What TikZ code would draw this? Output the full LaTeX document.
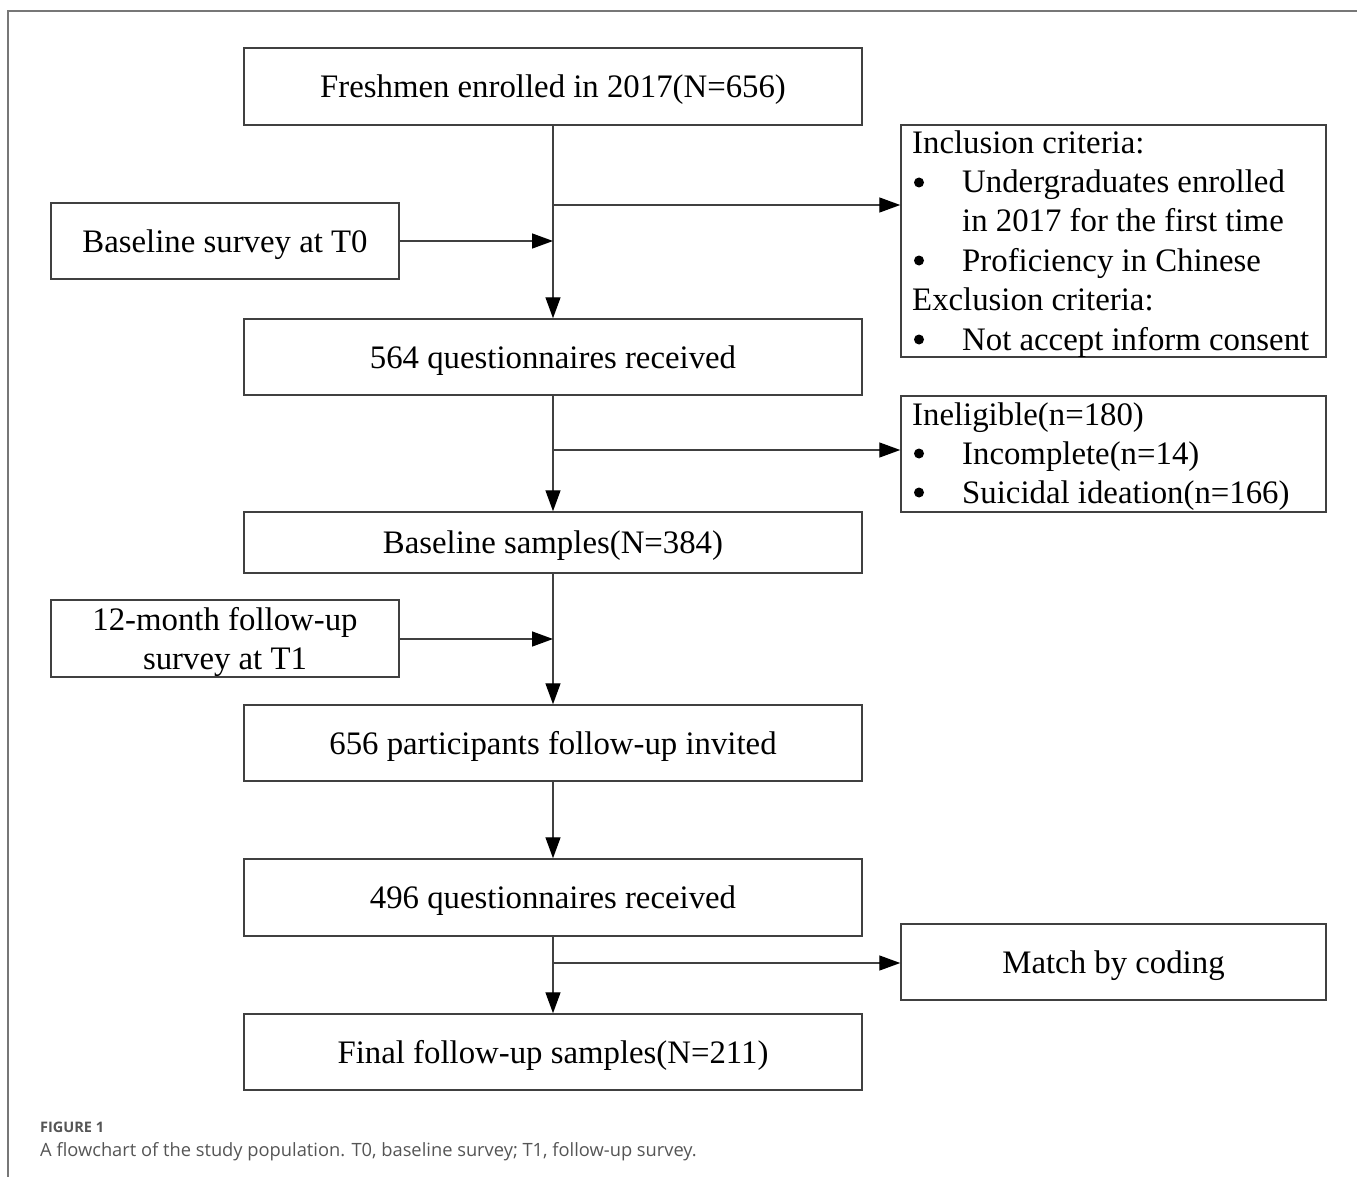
\documentclass[tikz,border=0pt]{standalone}
\usepackage{fontspec}
\setmainfont{Liberation Serif}
\newfontfamily\capfont{Open Sans}
\usetikzlibrary{arrows.meta}
\definecolor{linec}{HTML}{404040}
\definecolor{capc}{HTML}{555555}
\definecolor{framec}{HTML}{777777}
\tikzset{
  box/.style={draw=linec, line width=1.5pt, inner sep=0pt, font=\fontsize{32.8}{39}\selectfont, text=black, text height=22pt, text depth=0pt},
  txt/.style={inner sep=0pt, anchor=base west, font=\fontsize{32.8}{39}\selectfont, text=black},
  bul/.style={circle, fill=black, inner sep=0pt, minimum size=10pt},
  arr/.style={draw=linec, line width=1.4pt, -{Triangle[length=21pt,width=15pt,color=black]}},
}
\begin{document}
\begin{tikzpicture}[x=1pt,y=-1pt]
\useasboundingbox (0,0) rectangle (1357,1177);
\draw[framec, line width=1.2pt] (1357,11) -- (8,11) -- (8,1177);
% main boxes
\node[box, minimum width=618pt, minimum height=77pt] (b1) at (553,86.5) {Freshmen enrolled in 2017(N=656)};
\node[box, minimum width=618pt, minimum height=76pt] (b2) at (553,357) {564 questionnaires received};
\node[box, minimum width=618pt, minimum height=61pt] (b3) at (553,542.5) {Baseline samples(N=384)};
\node[box, minimum width=618pt, minimum height=76pt] (b4) at (553,743) {656 participants follow-up invited};
\node[box, minimum width=618pt, minimum height=77pt] (b5) at (553,897.5) {496 questionnaires received};
\node[box, minimum width=618pt, minimum height=76pt] (b6) at (553,1052) {Final follow-up samples(N=211)};
% left boxes
\node[box, minimum width=348pt, minimum height=76pt] (t0) at (225,241) {Baseline survey at T0};
\node[box, minimum width=348pt, minimum height=77pt] (t1) at (225,638.5) {};
\node[inner sep=0pt, align=center, font=\fontsize{32.8}{39}\selectfont, text=black] (t1txt) at (225,642) {12-month follow-up\\survey at T1};
% right boxes
\node[box, minimum width=425pt, minimum height=232pt] (inc) at (1113.5,241) {};
\node[box, minimum width=425pt, minimum height=116pt] (inel) at (1113.5,454) {};
\node[box, minimum width=425pt, minimum height=76pt] (match) at (1113.5,962) {Match by coding};
% inclusion text
\node[txt] (i1) at (912,154) {Inclusion criteria:};
\node[bul] (i2) at (919,182.5) {};
\node[txt] (i3) at (962,193) {Undergraduates enrolled};
\node[txt] (i4) at (962,232) {in 2017 for the first time};
\node[bul] (i5) at (919,260.5) {};
\node[txt] (i6) at (962,271) {Proficiency in Chinese};
\node[txt] (i7) at (912,310) {Exclusion criteria:};
\node[bul] (i8) at (919,339.5) {};
\node[txt] (i9) at (962,350) {Not accept inform consent};
% ineligible text
\node[txt] (e1) at (912,425) {Ineligible(n=180)};
\node[bul] (e2) at (919,453.5) {};
\node[txt] (e3) at (962,464) {Incomplete(n=14)};
\node[bul] (e4) at (919,492.5) {};
\node[txt] (e5) at (962,503) {Suicidal ideation(n=166)};
% junction coordinates
\coordinate (j1) at (553,205);
\coordinate (j2) at (553,241);
\coordinate (j3) at (553,450);
\coordinate (j4) at (553,639);
\coordinate (j5) at (553,963);
% connectors
\draw[arr] (b1.south) -- (b2.north);
\draw[arr] (j1) -- (j1 -| inc.west);
\draw[arr] (t0.east) -- (j2);
\draw[arr] (b2.south) -- (b3.north);
\draw[arr] (j3) -- (j3 -| inel.west);
\draw[arr] (b3.south) -- (b4.north);
\draw[arr] (t1.east |- j4) -- (j4);
\draw[arr] (b4.south) -- (b5.north);
\draw[arr] (b5.south) -- (b6.north);
\draw[arr] (j5) -- (j5 -| match.west);
% caption
\node[inner sep=0pt, anchor=base west, font=\capfont\bfseries\fontsize{14.5}{17}\selectfont, text=capc] (cap1) at (40,1132) {FIGURE 1};
\node[inner sep=0pt, anchor=base west, font=\capfont\fontsize{18.3}{21}\selectfont, text=capc] (cap2) at (40,1156) {A flowchart of the study population. T0, baseline survey; T1, follow-up survey.};
\end{tikzpicture}
\end{document}
